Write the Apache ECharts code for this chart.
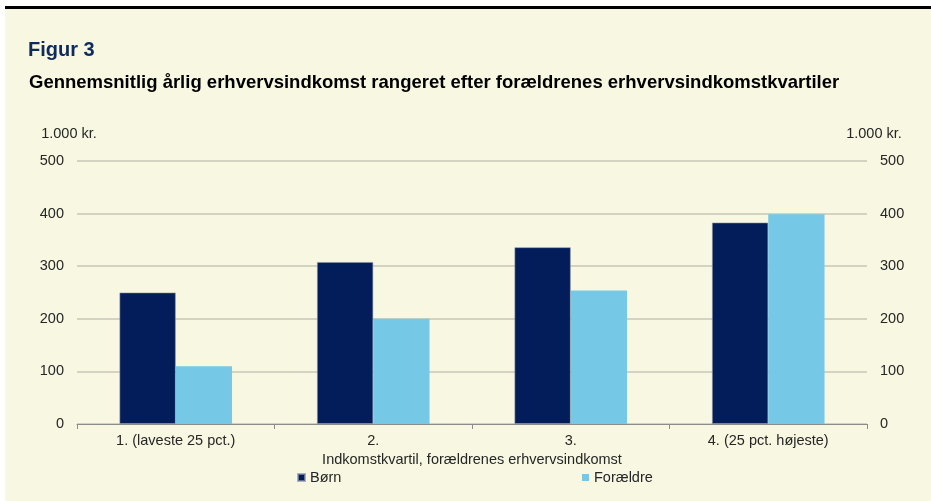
<!DOCTYPE html>
<html>
<head>
<meta charset="utf-8">
<script src="https://cdn.jsdelivr.net/npm/echarts@6/dist/echarts.min.js"></script>
<style>
  html, body { margin: 0; padding: 0; background: #fff; }
  #chart { width: 931px; height: 501px; }
</style>
</head>
<body>
<div id="chart"></div>
<script>
const categories = ['1. (laveste 25 pct.)', '2.', '3.', '4. (25 pct. højeste)']
const boern = [250, 308, 336, 383]
const foraeldre = [110, 200, 254, 399]
const yTicks = { min: 0, max: 500, interval: 100 }

const font = '"Liberation Sans", Arial, sans-serif'
const txt = '#262626'
const fs = 14.5

const valueAxis = (pos, pad) => ({
  type: 'value',
  position: pos,
  min: yTicks.min,
  max: yTicks.max,
  interval: yTicks.interval,
  name: '1.000 kr.',
  nameLocation: 'end',
  nameGap: 20,
  nameTextStyle: { color: txt, fontSize: fs, fontFamily: font, align: 'center', padding: pad },
  axisLine: { show: false },
  axisTick: { show: false },
  axisLabel: { color: txt, fontSize: fs, fontFamily: font, margin: 13 },
  splitLine: { show: pos === 'left', lineStyle: { color: '#c9c6b6', width: 1.5 } }
})

const renderCharts = (refs, options) => {
  let chartDom = echarts.init(refs, null, { renderer: 'canvas' })
  chartDom.setOption(options)
  return chartDom
}

const legendItem = (name, left) => ({
  data: [name],
  left: left,
  top: 470,
  padding: 0,
  icon: 'rect',
  itemWidth: 7,
  itemHeight: 7,
  itemGap: 4,
  textStyle: { color: txt, fontSize: fs, fontFamily: font }
})

const option = {
  backgroundColor: '#ffffff',
  animation: false,
  graphic: [
    { type: 'rect', z: -10, shape: { x: 5, y: 9, width: 926, height: 492 }, style: { fill: '#f8f7e1' } },
    { type: 'rect', z: -9, shape: { x: 5, y: 6, width: 926, height: 3 }, style: { fill: '#000000' } },
    { type: 'text', left: 28, top: 40, style: { text: 'Figur 3', fill: '#0e2b5c', font: 'bold 20px ' + font } },
    { type: 'text', left: 29, top: 73, style: { text: 'Gennemsnitlig årlig erhvervsindkomst rangeret efter forældrenes erhvervsindkomstkvartiler', fill: '#000000', font: 'bold 18.5px ' + font } }
  ],
  grid: { left: 77, right: 64, top: 161, bottom: 77, containLabel: false },
  legend: [legendItem('Børn', 297), legendItem('Forældre', 582)],
  xAxis: {
    type: 'category',
    data: categories,
    name: 'Indkomstkvartil, forældrenes erhvervsindkomst',
    nameLocation: 'middle',
    nameGap: 27,
    nameTextStyle: { color: txt, fontSize: fs, fontFamily: font },
    axisLine: { lineStyle: { color: '#8c8c8c', width: 1 } },
    axisTick: { show: true, length: 5, lineStyle: { color: '#8c8c8c' } },
    axisLabel: { color: txt, fontSize: fs, fontFamily: font, margin: 9 }
  },
  yAxis: [valueAxis('left', [0, 16, 0, 0]), valueAxis('right', [0, 0, 0, 14])],
  series: [
    {
      name: 'Børn',
      type: 'bar',
      data: boern,
      barGap: '0%',
      barCategoryGap: '43%',
      itemStyle: { color: '#031d5b', borderColor: 'rgba(140,150,170,0.7)', borderWidth: 0.8 }
    },
    {
      name: 'Forældre',
      type: 'bar',
      data: foraeldre,
      itemStyle: { color: '#75c9e7' }
    }
  ]
}

renderCharts(document.getElementById('chart'), option)
</script>
</body>
</html>
